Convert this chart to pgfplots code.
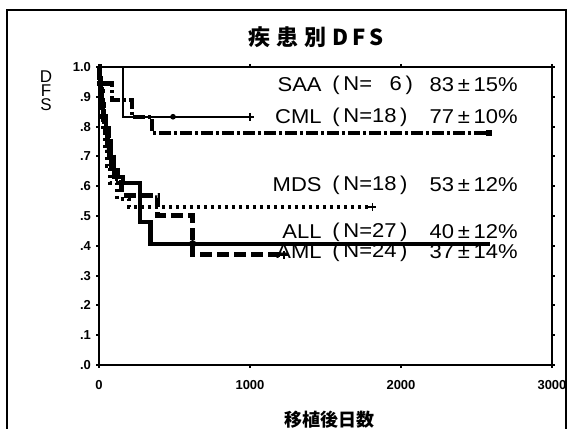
\documentclass[border=0pt]{standalone}
\usepackage{pgfplots}
\pgfplotsset{compat=1.18}
\usepackage{fontspec}
\setmainfont{Liberation Sans}
\newfontfamily\cjk{Noto Sans CJK JP}
\newcommand\pmsp{\,±\,}
\newcommand\wide[1]{\scalebox{1.1}[1]{#1}}
\begin{document}
\begin{tikzpicture}[x=0.5pt,y=0.5pt]
\path[use as bounding box] (0,0) rectangle (569,429);
% outer frame
\draw[line width=1.2pt] (7,0) -- (7,419) -- (566,419) -- (566,0);
% title
\node[font=\cjk\bfseries\fontsize{11}{11}\selectfont] at (316,392) {疾\hspace{3pt}患\hspace{3pt}別\hspace{3pt}D\hspace{2pt}F\hspace{2pt}S};
% y label stacked
\node[font=\fontsize{8.5}{7}\selectfont, align=center, inner sep=0pt] at (46,338) {D\\F\\S};
% x label
\node[font=\cjk\bfseries\fontsize{9}{9}\selectfont] at (330,9) {移植後日数};
\begin{axis}[
  at={(49.5pt,32pt)}, anchor=south west,
  scale only axis, width=226.5pt, height=149pt,
  xmin=0, xmax=3000, ymin=0, ymax=1,
  axis line style={line width=1pt},
  xtick={0,1000,2000,3000},
  ytick={0,0.1,0.2,0.3,0.4,0.5,0.6,0.7,0.8,0.9,1.0},
  yticklabels={.0,.1,.2,.3,.4,.5,.6,.7,.8,.9,1.0},
  xticklabels={0,1000,2000,3000},
  tick align=outside, major tick length=1.5pt,
  tick style={line width=1pt, black},
  /pgf/number format/assume math mode=true,
  tick label style={font=\bfseries\fontsize{6.5}{6.5}\selectfont},
  xticklabel style={yshift=-2.5pt},
  yticklabel style={xshift=1pt},
  clip=false,
]
% SAA
\addplot[black, line width=0.8pt, const plot] coordinates {(0,1) (160,1) (160,0.833) (1000,0.833)};
\addplot[black, only marks, mark=*, mark size=1.2pt] coordinates {(490,0.833)};
\addplot[black, only marks, mark=+, mark size=2pt, mark options={line width=0.8pt}] coordinates {(1000,0.833)};
% CML
\addplot[black, line width=2.2pt, dash pattern=on 6pt off 1.5pt on 1.5pt off 1.5pt, const plot] coordinates {(0,1) (5,0.944) (85,0.889) (220,0.833) (350,0.778) (2580,0.778)};
\addplot[black, only marks, mark=square*, mark size=1.2pt] coordinates {(2580,0.778)};
% MDS
\addplot[black, line width=2pt, dash pattern=on 1.6pt off 1.9pt, const plot] coordinates {(0,1) (3,0.944) (8,0.889) (15,0.833) (25,0.778) (40,0.722) (55,0.667) (75,0.611) (120,0.556) (200,0.53) (1810,0.53)};
\addplot[black, only marks, mark=+, mark size=2pt, mark options={line width=0.8pt}] coordinates {(1810,0.53)};
% ALL
\addplot[black, line width=2.2pt, const plot] coordinates {(0,1) (4,0.963) (10,0.926) (18,0.889) (25,0.852) (35,0.815) (45,0.778) (55,0.741) (65,0.704) (80,0.667) (100,0.630) (160,0.61) (270,0.48) (340,0.407) (2590,0.407)};
\addplot[black, only marks, mark=*, mark size=1.6pt] coordinates {(620,0.407)};
% AML
\addplot[black, line width=2.5pt, dash pattern=on 6pt off 2.5pt, const plot] coordinates {(0,1) (5,0.958) (12,0.917) (20,0.875) (30,0.833) (45,0.792) (60,0.75) (75,0.708) (95,0.667) (120,0.625) (150,0.57) (390,0.50) (620,0.37) (1225,0.37)};
\addplot[black, only marks, mark=+, mark size=2pt, mark options={line width=0.8pt}] coordinates {(1225,0.37)};
\end{axis}
% labels
\begin{scope}[every node/.style={font=\fontsize{10}{10}\selectfont, inner sep=0pt}]
\node[anchor=east] at (322,344) {\wide{SAA}};
\node[anchor=west] at (332,344) {\wide{(\,N=\hspace{8pt}6\,)}};
\node[anchor=east] at (518,344) {\wide{83\pmsp15\%}};
\node[anchor=east] at (322,312) {\wide{CML}};
\node[anchor=west] at (332,312) {\wide{(\,N=18\,)}};
\node[anchor=east] at (518,312) {\wide{77\pmsp10\%}};
\node[anchor=east] at (322,244) {\wide{MDS}};
\node[anchor=west] at (332,244) {\wide{(\,N=18\,)}};
\node[anchor=east] at (518,244) {\wide{53\pmsp12\%}};
\node[anchor=east] at (322,197) {\wide{ALL}};
\node[anchor=west] at (332,197) {\wide{(\,N=27\,)}};
\node[anchor=east] at (518,197) {\wide{40\pmsp12\%}};
\node[anchor=east] at (322,177) {\wide{AML}};
\node[anchor=west] at (332,177) {\wide{(\,N=24\,)}};
\node[anchor=east] at (518,177) {\wide{37\pmsp14\%}};
\end{scope}
\end{tikzpicture}
\end{document}
